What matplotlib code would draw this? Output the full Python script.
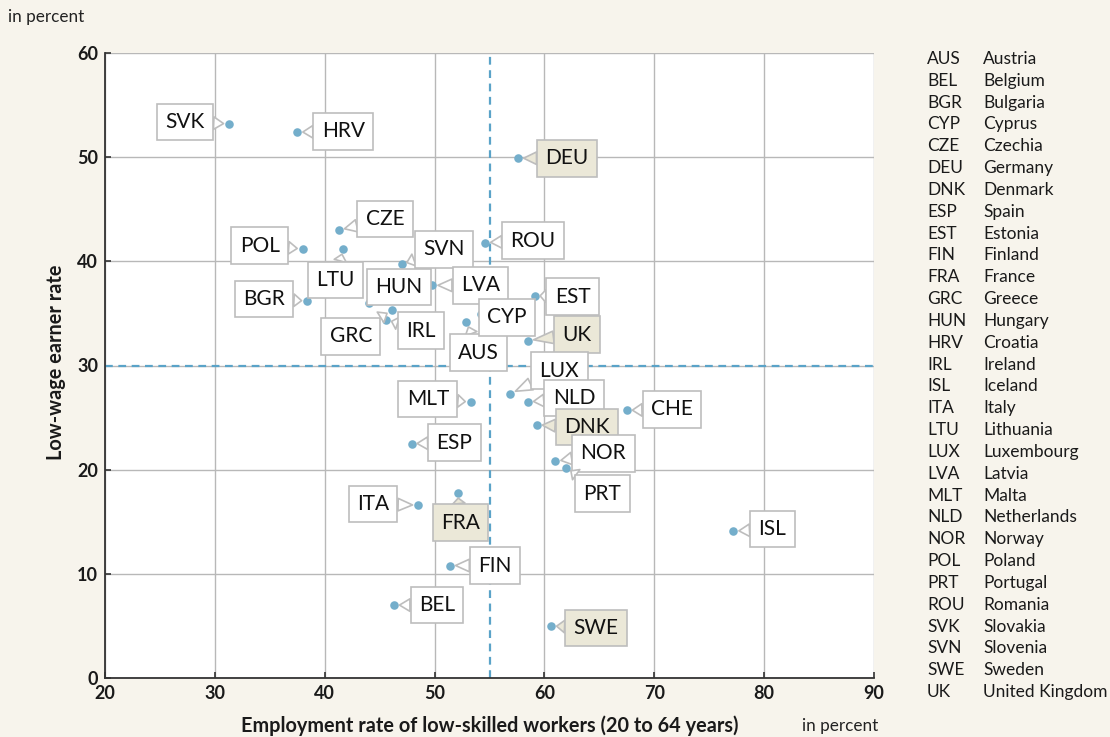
import matplotlib
matplotlib.use("Agg")
import matplotlib.pyplot as plt

plt.rcParams['font.family'] = ['Lato', 'DejaVu Sans']

codes = ["SVK", "HRV", "DEU", "CZE", "POL", "LTU", "ROU", "SVN", "LVA", "BGR",
         "HUN", "GRC", "IRL", "AUS", "CYP", "EST", "UK", "LUX", "NLD", "MLT",
         "DNK", "ESP", "NOR", "PRT", "CHE", "ISL", "ITA", "FRA", "FIN", "BEL", "SWE"]
employment = [31.3, 37.5, 57.6, 41.3, 38.0, 41.7, 54.6, 47.0, 49.8, 38.4,
              44.0, 46.1, 45.6, 52.9, 54.2, 59.1, 58.5, 56.9, 58.5, 53.3,
              59.3, 47.9, 61.0, 62.0, 67.5, 77.2, 48.5, 52.1, 51.4, 46.3, 60.6]
low_wage = [53.2, 52.4, 49.9, 43.0, 41.2, 41.2, 41.8, 39.7, 37.7, 36.2,
            36.0, 35.3, 34.4, 34.2, 34.9, 36.7, 32.4, 27.3, 26.5, 26.5,
            24.3, 22.5, 20.8, 20.2, 25.7, 14.1, 16.6, 17.8, 10.8, 7.0, 5.0]
highlighted = ["DEU", "UK", "DNK", "FRA", "SWE"]
# label offsets from point in pixels (dx right, dy up)
label_offsets = {
    "SVK": (-44, 2), "HRV": (46, 1), "DEU": (49, 0), "CZE": (46, 11),
    "POL": (-43, 3), "LTU": (-8, -31), "ROU": (48, 2), "SVN": (42, 15),
    "LVA": (48, 0), "BGR": (-43, 2), "HUN": (30, 16), "GRC": (-41, -26),
    "IRL": (35, -11), "AUS": (12, -31), "CYP": (26, -3), "EST": (38, -1),
    "UK": (49, 6), "LUX": (49, 23), "NLD": (46, 4), "MLT": (-43, 3),
    "DNK": (50, -2), "ESP": (43, 1), "NOR": (48, 8), "PRT": (36, -26),
    "CHE": (45, 1), "ISL": (39, 2), "ITA": (-45, 1), "FRA": (3, -30),
    "FIN": (45, 0), "BEL": (43, 0), "SWE": (45, -2),
}

legend_codes = ["AUS", "BEL", "BGR", "CYP", "CZE", "DEU", "DNK", "ESP", "EST", "FIN",
                "FRA", "GRC", "HUN", "HRV", "IRL", "ISL", "ITA", "LTU", "LUX", "LVA",
                "MLT", "NLD", "NOR", "POL", "PRT", "ROU", "SVK", "SVN", "SWE", "UK"]
legend_names = ["Austria", "Belgium", "Bulgaria", "Cyprus", "Czechia", "Germany",
                "Denmark", "Spain", "Estonia", "Finland", "France", "Greece", "Hungary",
                "Croatia", "Ireland", "Iceland", "Italy", "Lithuania", "Luxembourg",
                "Latvia", "Malta", "Netherlands", "Norway", "Poland", "Portugal",
                "Romania", "Slovakia", "Slovenia", "Sweden", "United Kingdom"]

x_ticks = [20, 30, 40, 50, 60, 70, 80, 90]
y_ticks = [0, 10, 20, 30, 40, 50, 60]
x_ref = 55
y_ref = 30

BG = "#f7f4ec"
DOT = "#74aecb"
DASH = "#5aa3c8"
GRID = "#b8b8b8"
HL = "#ebe8d8"

fig = plt.figure(figsize=(11.10, 7.37), dpi=100, facecolor=BG)
ax = fig.add_axes([105/1110, 1-678/737, (874-105)/1110, (678-53)/737])
ax.set_facecolor("white")
ax.set_xlim(20, 90)
ax.set_ylim(0, 60)
ax.set_xticks(x_ticks)
ax.set_yticks(y_ticks)
ax.grid(True, color=GRID, lw=1.0, zorder=0)
ax.set_axisbelow(True)
for s in ["top", "right"]:
    ax.spines[s].set_visible(False)
for s in ["left", "bottom"]:
    ax.spines[s].set_color("#333333")
    ax.spines[s].set_linewidth(1.3)
ax.tick_params(direction="in", length=4, width=1.2, color="#333333",
               labelsize=13, pad=5)
for lab in ax.get_xticklabels() + ax.get_yticklabels():
    lab.set_fontweight("bold")
    lab.set_color("#1a1a1a")

ax.axvline(x_ref, color=DASH, lw=1.6, dashes=(3.5, 2.5), zorder=1)
ax.axhline(y_ref, color=DASH, lw=1.6, dashes=(3.5, 2.5), zorder=1)

ax.scatter(employment, low_wage, s=38, color=DOT, zorder=3, linewidths=0)

for c, x, y in zip(codes, employment, low_wage):
    dx, dy = label_offsets[c]
    fc = HL if c in highlighted else "white"
    ax.annotate(c, xy=(x, y), xytext=(dx, dy), textcoords="offset pixels",
                ha="center", va="center", fontsize=15, color="#111111",
                bbox=dict(boxstyle="square,pad=0.4", fc=fc, ec="#bdbdbd", lw=1.2),
                arrowprops=dict(arrowstyle="wedge,tail_width=0.6,shrink_factor=0.5",
                                fc=fc, ec="#bdbdbd", lw=1.2, shrinkA=0, shrinkB=4),
                zorder=4, annotation_clip=False)

fig.text(490/1110, 1-726/737, "Employment rate of low-skilled workers (20 to 64 years)",
         fontsize=14.3, fontweight="bold", color="#1a1a1a", ha="center", va="center")
fig.text(56/1110, 1-362/737, "Low-wage earner rate", rotation=90,
         fontsize=14.3, fontweight="bold", color="#1a1a1a", ha="center", va="center")

fig.text(8/1110, 1-17/737, "in percent", fontsize=12.3, color="#222222", va="center", ha="left")
fig.text(840/1110, 1-726/737, "in percent", fontsize=12.3, color="#222222", va="center", ha="center")

y0 = 59
step = (692-59)/29
for i, (c, n) in enumerate(zip(legend_codes, legend_names)):
    yy = 1 - (y0 + i*step)/737
    fig.text(927/1110, yy, c, fontsize=12.5, color="#1a1a1a", va="center", ha="left")
    fig.text(983/1110, yy, n, fontsize=12.5, color="#1a1a1a", va="center", ha="left")

fig.savefig("out.png", dpi=100, facecolor=BG)
